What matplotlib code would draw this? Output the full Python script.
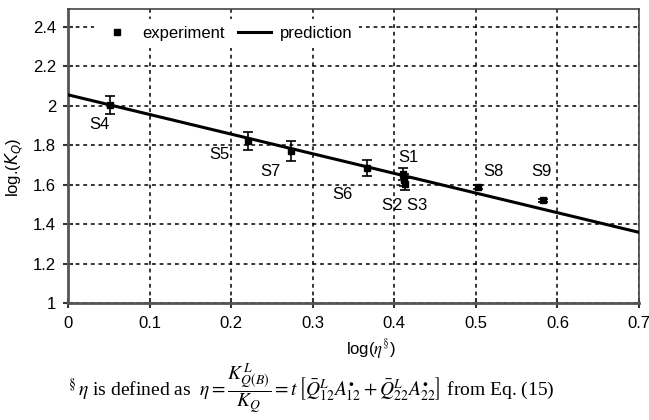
import matplotlib.pyplot as plt
from matplotlib.lines import Line2D
import numpy as np

plt.rcParams['font.family'] = ['Liberation Sans', 'DejaVu Sans']

# experiment points
names = ['S4', 'S5', 'S7', 'S6', 'S1', 'S2', 'S3', 'S8', 'S9']
log_eta = [0.051, 0.221, 0.273, 0.367, 0.411, 0.412, 0.413, 0.503, 0.582]
log_kq = [2.005, 1.822, 1.770, 1.684, 1.655, 1.625, 1.605, 1.588, 1.520]
err = [0.045, 0.045, 0.050, 0.040, 0.030, 0.030, 0.030, 0.008, 0.008]

# prediction line end points
pred_x = [0.0, 0.7]
pred_y = [2.055, 1.358]

xticks = [0, 0.1, 0.2, 0.3, 0.4, 0.5, 0.6, 0.7]
ytick_vals = [1, 1.2, 1.4, 1.6, 1.8, 2, 2.2, 2.4]
ytick_labels = ['1', '1.2', '1.4', '1.6', '1.8', '2', '2.2', '2.4']
xtick_labels = ['0', '0.1', '0.2', '0.3', '0.4', '0.5', '0.6', '0.7']

# point labels (offset in data units from the point)
label_text = ['S4', 'S5', 'S7', 'S6', 'S1', 'S2 S3', 'S8', 'S9']
label_of = [0, 1, 2, 3, 4, 5, 7, 8]
label_dx = [-0.012, -0.035, -0.025, -0.030, 0.006, 0.001, 0.018, -0.001]
label_dy = [-0.10, -0.07, -0.105, -0.135, 0.08, -0.13, 0.076, 0.144]

fig = plt.figure(figsize=(6.49, 4.2), dpi=100)
ax = fig.add_axes([0.1048, 0.2786, 0.8798, 0.7])

ax.grid(True, color='black', linestyle=(0, (2.5, 2.5)), linewidth=1.1)
ax.set_axisbelow(True)

ax.plot(pred_x, pred_y, color='black', linewidth=2.2, zorder=3)
ax.errorbar(log_eta, log_kq, yerr=err, fmt='s', color='black', markersize=5,
            elinewidth=1.2, capsize=3.5, capthick=1.2, zorder=4)

for t, i, dx, dy in zip(label_text, label_of, label_dx, label_dy):
    ax.text(log_eta[i] + dx, log_kq[i] + dy, t, fontsize=12, ha='center', va='center')

ax.set_xlim(0, 0.7)
ax.set_ylim(1, 2.49)
ax.set_xticks(xticks)
ax.set_xticklabels(xtick_labels)
ax.set_yticks(ytick_vals)
ax.set_yticklabels(ytick_labels)
ax.tick_params(direction='inout', length=7, width=1.5, labelsize=12, colors='#333333',
               labelcolor='black')
ax.tick_params(axis='x', pad=6)
ax.tick_params(axis='y', pad=5)

for s in ['left', 'bottom']:
    ax.spines[s].set_linewidth(2)
    ax.spines[s].set_color('#555555')
for s in ['top', 'right']:
    ax.spines[s].set_linewidth(1.2)
    ax.spines[s].set_color('#444444')

ax.set_xlabel(r'log($\eta^{\S}$)', fontsize=12, math_fontfamily='stix')
ax.xaxis.set_label_coords(0.53, -0.115)
ax.set_ylabel(r'log.($K_Q$)', fontsize=12, math_fontfamily='dejavusans')
ax.yaxis.set_label_coords(-0.075, 0.46)

h_exp = Line2D([], [], marker='s', linestyle='none', color='black', markersize=5)
h_pred = Line2D([], [], color='black', linewidth=2.2)
leg = ax.legend([h_exp, h_pred], ['experiment', 'prediction'], ncol=2, loc='upper left',
                bbox_to_anchor=(0.045, 0.965), frameon=True, fontsize=12,
                handlelength=2.0, columnspacing=0.8, handletextpad=0.5,
                borderaxespad=0, fancybox=False)
leg.get_frame().set_edgecolor('none')
leg.get_frame().set_facecolor('white')
leg.get_frame().set_alpha(1)

fig.text(0.48, 0.076,
         r'$^{\S}\,\eta$ is defined as  '
         r'$\eta = \dfrac{K^{L}_{Q(B)}}{K_{Q}} = t\,\left[\bar{Q}^{L}_{12}A^{\bullet}_{12}'
         r' + \bar{Q}^{L}_{22}A^{\bullet}_{22}\right]$ from Eq. (15)',
         fontsize=14, family='Liberation Serif', math_fontfamily='stix',
         ha='center', va='center')

fig.savefig('out.png', dpi=100)
